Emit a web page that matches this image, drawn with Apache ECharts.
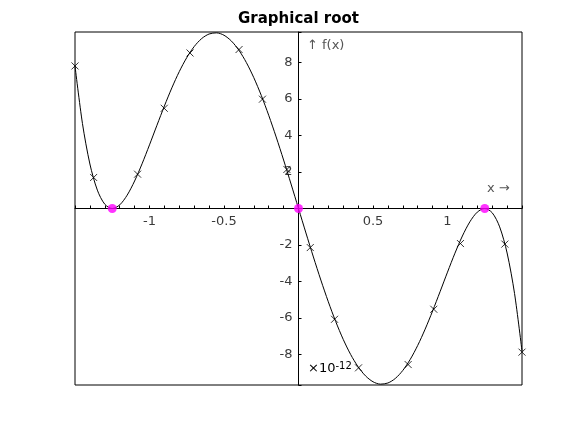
<!DOCTYPE html>
<html><head><meta charset="utf-8">
<script src="https://cdn.jsdelivr.net/npm/echarts@6/dist/echarts.min.js"></script>
<style>html,body{margin:0;padding:0;background:#fff}#c{width:577px;height:433px}</style>
</head><body><div id="c"></div>
<script>
// curve samples (x, f(x) in units of 1e-12)
const curveX = [-1.5,-1.45,-1.4,-1.35,-1.3,-1.25,-1.2,-1.15,-1.1,-1.05,-1.0,-0.95,-0.9,-0.85,-0.8,-0.75,-0.7,-0.65,-0.6,-0.55,-0.5,-0.45,-0.4,-0.35,-0.3,-0.25,-0.2,-0.15,-0.1,-0.05,0,
  0.05,0.1,0.15,0.2,0.25,0.3,0.35,0.4,0.45,0.5,0.55,0.6,0.65,0.7,0.75,0.8,0.85,0.9,0.95,1.0,1.05,1.1,1.15,1.2,1.25,1.3,1.35,1.4,1.45,1.5];
const curveY = [7.813,4.659,2.438,1.006,0.233,0,0.198,0.730,1.506,2.448,3.487,4.560,5.616,6.609,7.503,8.265,8.873,9.309,9.561,9.623,9.492,9.172,8.671,7.998,7.168,6.199,5.109,3.920,2.656,1.341,0,
  -1.341,-2.656,-3.920,-5.109,-6.199,-7.168,-7.998,-8.671,-9.172,-9.492,-9.623,-9.561,-9.309,-8.873,-8.265,-7.503,-6.609,-5.616,-4.560,-3.487,-2.448,-1.506,-0.730,-0.198,0,-0.233,-1.006,-2.438,-4.659,-7.813];
// sample markers (x)
const markX = [-1.5,-1.375,-1.08,-0.901,-0.728,-0.399,-0.242,-0.078,0.079,0.242,0.403,0.736,0.908,1.087,1.385,1.5];
const markY = [7.81,1.7,1.88,5.49,8.52,8.71,5.99,2.14,-2.14,-6.07,-8.73,-8.55,-5.52,-1.92,-1.95,-7.87];
// roots
const rootX = [-1.25,0,1.25];
const rootY = [0,0,0];
const xTickLabels = ['-1','-0.5','0.5','1'];
const yTickLabels = ['-8','-6','-4','-2','2','4','6','8'];

const zip = (a,b)=>a.map((v,i)=>[v,b[i]]);
const fnt = 'DejaVu Sans';
const G = {left:75, right:55, top:32, bottom:48, W:577, H:433};
const xMin=-1.5, xMax=1.5, yMin=-9.67, yMax=9.67;
const plotW = G.W-G.left-G.right, plotH = G.H-G.top-G.bottom;
// shift axes so they cross at the origin
const yAxisOffset = -plotW*(0-xMin)/(xMax-xMin);
const xAxisOffset = -plotH*(0-yMin)/(yMax-yMin);
const chart = echarts.init(document.getElementById('c'), null, {renderer:'canvas'});
chart.setOption({
  animation:false,
  backgroundColor:'#fff',
  grid:{left:G.left, right:G.right, top:G.top, bottom:G.bottom, show:true, borderColor:'#000', borderWidth:1, backgroundColor:'transparent'},
  xAxis:{type:'value', min:xMin, max:xMax, interval:0.5, offset:xAxisOffset,
    axisLine:{onZero:false, lineStyle:{color:'#000', width:1}},
    axisTick:{show:true, inside:true, length:3, lineStyle:{color:'#000'}},
    minorTick:{show:true, splitNumber:5, length:3, lineStyle:{color:'#000'}},
    splitLine:{show:false},
    axisLabel:{margin:7, fontFamily:fnt, fontSize:13, color:'#3a3a3a', showMinLabel:true, showMaxLabel:true,
      formatter:v=>{const s=String(+v.toFixed(2)); return xTickLabels.includes(s)?s:'';}}},
  yAxis:{type:'value', min:yMin, max:yMax, splitNumber:10, minInterval:2, maxInterval:2, offset:yAxisOffset,
    axisLine:{onZero:false, lineStyle:{color:'#000', width:1}},
    axisTick:{show:true, inside:true, length:3, lineStyle:{color:'#000'}},
    splitLine:{show:false},
    axisLabel:{margin:6, fontFamily:fnt, fontSize:13, color:'#3a3a3a',
      formatter:v=>{const s=String(Math.round(v)); return (Math.abs(v-Math.round(v))<1e-6 && yTickLabels.includes(s))?s:'';}}},
  graphic:[
    {type:'text', left:238, top:12, style:{text:'Graphical root', font:'bold 15px "DejaVu Sans"', fill:'#000'}},
    {type:'text', left:307, top:39, style:{text:'↑ f(x)', font:'13px "DejaVu Sans"', fill:'#555'}},
    {type:'text', left:487, top:182, style:{text:'x →', font:'13px "DejaVu Sans"', fill:'#555'}},
    {type:'text', left:308, top:361, style:{rich:{a:{fontFamily:fnt,fontSize:13,color:'#555'},b:{fontFamily:fnt,fontSize:10,color:'#555',verticalAlign:'top',padding:[0,0,6,0]}}, text:'{a|×10}{b|-12}'}}
  ],
  series:[
    {type:'line', data:zip(curveX,curveY), smooth:0.3, showSymbol:false, silent:true,
      lineStyle:{color:'#000', width:1}, z:2},
    {type:'scatter', data:zip(markX,markY), symbol:'path://M0,0L10,10M0,10L10,0', symbolSize:7, silent:true,
      itemStyle:{color:'transparent', borderColor:'#000', borderWidth:1}, z:3},
    {type:'scatter', data:zip(rootX,rootY), symbol:'circle', symbolSize:9, silent:true,
      itemStyle:{color:'#ff00ff'}, z:4}
  ]
});
</script></body></html>
